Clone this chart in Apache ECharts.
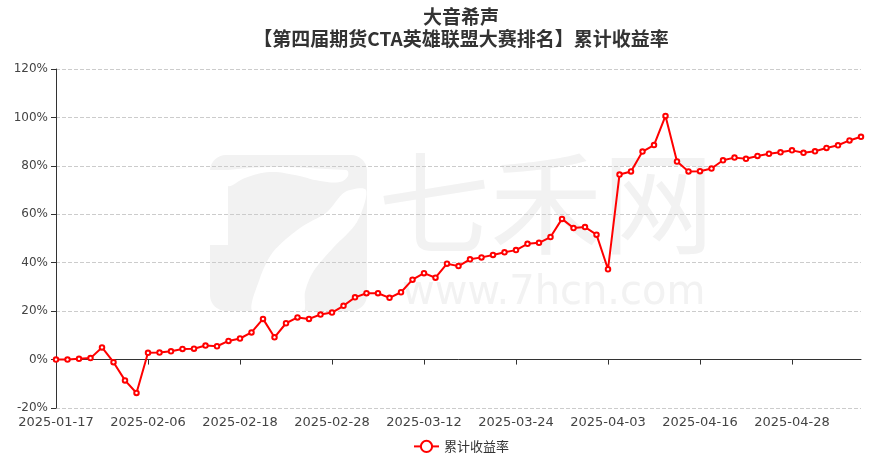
<!DOCTYPE html>
<html>
<head>
<meta charset="utf-8">
<script src="https://cdn.jsdelivr.net/npm/echarts@6/dist/echarts.min.js"></script>
<style>html,body{margin:0;padding:0;background:#fff}#c{width:883px;height:468px}</style>
</head>
<body>
<div id="c"></div>
<script>
const titleText = '大音希声\n【第四届期货CTA英雄联盟大赛排名】累计收益率';
const seriesName = '累计收益率';
const dates = [
 '2025-01-17','2025-01-20','2025-01-21','2025-01-22','2025-01-23','2025-01-24','2025-01-27',
 '2025-02-05','2025-02-06','2025-02-07','2025-02-10','2025-02-11','2025-02-12','2025-02-13','2025-02-14',
 '2025-02-17','2025-02-18','2025-02-19','2025-02-20','2025-02-21','2025-02-24','2025-02-25','2025-02-26','2025-02-27','2025-02-28',
 '2025-03-03','2025-03-04','2025-03-05','2025-03-06','2025-03-07','2025-03-10','2025-03-11','2025-03-12','2025-03-13','2025-03-14',
 '2025-03-17','2025-03-18','2025-03-19','2025-03-20','2025-03-21','2025-03-24','2025-03-25','2025-03-26','2025-03-27','2025-03-28',
 '2025-03-31','2025-04-01','2025-04-02','2025-04-03','2025-04-07','2025-04-08','2025-04-09','2025-04-10','2025-04-11',
 '2025-04-14','2025-04-15','2025-04-16','2025-04-17','2025-04-18','2025-04-21','2025-04-22','2025-04-23','2025-04-24','2025-04-25',
 '2025-04-28','2025-04-29','2025-04-30','2025-05-06','2025-05-07','2025-05-08','2025-05-09'
];
const values = [
 0, 0, 0.3, 0.6, 5.0, -1.1, -8.6,
 -13.8, 2.8, 2.9, 3.4, 4.4, 4.5, 5.8, 5.5,
 7.7, 8.7, 11.2, 16.8, 9.2, 15.0, 17.4, 16.8, 18.6, 19.4,
 22.2, 25.7, 27.4, 27.4, 25.5, 27.8, 33.0, 35.7, 33.8, 39.6,
 38.6, 41.4, 42.2, 43.2, 44.3, 45.2, 47.8, 48.2, 50.6, 58.1,
 54.3, 54.7, 51.6, 37.3, 76.4, 77.7, 85.9, 88.6, 100.6,
 81.8, 77.7, 77.8, 78.9, 82.3, 83.4, 82.9, 84.1, 85.0, 85.6,
 86.4, 85.4, 86.0, 87.4, 88.5, 90.5, 92.0
];
const yMin = -20, yMax = 120, yStep = 20;

const chart = echarts.init(document.getElementById('c'), null, {renderer: 'canvas'});
const wm = '#f2f2f2';
chart.setOption({
  animation: false,
  backgroundColor: '#fff',
  graphic: [
    {type: 'rect', z: -10, shape: {x: 210, y: 155, width: 157, height: 156, r: 16}, style: {fill: wm}},
    {type: 'rect', z: -9, shape: {x: 209, y: 170, width: 19, height: 75}, style: {fill: '#fff'}},
    {type: 'polygon', z: -9, shape: {smooth: 0.4, points: [[228,170],[346,170],[348,176],[340,182],[320,181],[295,175],[270,172],[245,178],[228,186]]}, style: {fill: '#fff'}},
    {type: 'polygon', z: -9, shape: {smooth: 0.3, points: [[345,192],[366,190],[357,222],[333,248],[313,272],[305,292],[303,312],[253,312],[260,278],[273,252],[300,228],[327,212]]}, style: {fill: '#fff'}},
    {type: 'text', z: -9, left: 378, top: 147, style: {text: '七禾网', font: '112px "Noto Sans CJK SC"', fill: wm}},
    {type: 'text', z: -9, left: 402, top: 274, style: {text: 'www.7hcn.com', font: '40px "DejaVu Sans"', fill: wm}}
  ],
  title: {
    text: titleText,
    left: 456,
    textAlign: 'center',
    top: 1,
    textStyle: {fontSize: 19, fontWeight: 'bold', color: '#333', lineHeight: 22, fontFamily: '"Noto Sans CJK SC", sans-serif'}
  },
  legend: {
    bottom: 10,
    left: 408,
    data: [seriesName],
    textStyle: {color: '#333', fontSize: 13, fontFamily: '"Noto Sans CJK SC", sans-serif'}
  },
  grid: {left: 56, right: 22, top: 69, bottom: 60, containLabel: false, outerBoundsMode: 'none'},
  xAxis: {
    type: 'category',
    data: dates,
    boundaryGap: false,
    axisLine: {onZero: true, lineStyle: {color: '#333'}},
    axisTick: {show: true, interval: 7, lineStyle: {color: '#333'}},
    axisLabel: {interval: 7, margin: 8, color: '#444', fontSize: 13, fontFamily: '"DejaVu Sans", sans-serif'},
    splitLine: {show: false}
  },
  yAxis: {
    type: 'value',
    min: yMin, max: yMax, interval: yStep,
    axisLine: {show: true, lineStyle: {color: '#333'}},
    axisTick: {show: true, lineStyle: {color: '#333'}},
    axisLabel: {formatter: '{value}%', color: '#444', fontSize: 12, fontFamily: '"DejaVu Sans", sans-serif'},
    splitLine: {show: true, lineStyle: {type: 'dashed', color: '#ccc'}}
  },
  series: [{
    name: seriesName,
    type: 'line',
    data: values,
    symbol: 'emptyCircle',
    symbolSize: 4.5,
    showAllSymbol: true,
    lineStyle: {color: '#ff0000', width: 2},
    itemStyle: {color: '#ff0000', borderColor: '#ff4444', borderWidth: 1}
  }]
});
</script>
</body>
</html>
